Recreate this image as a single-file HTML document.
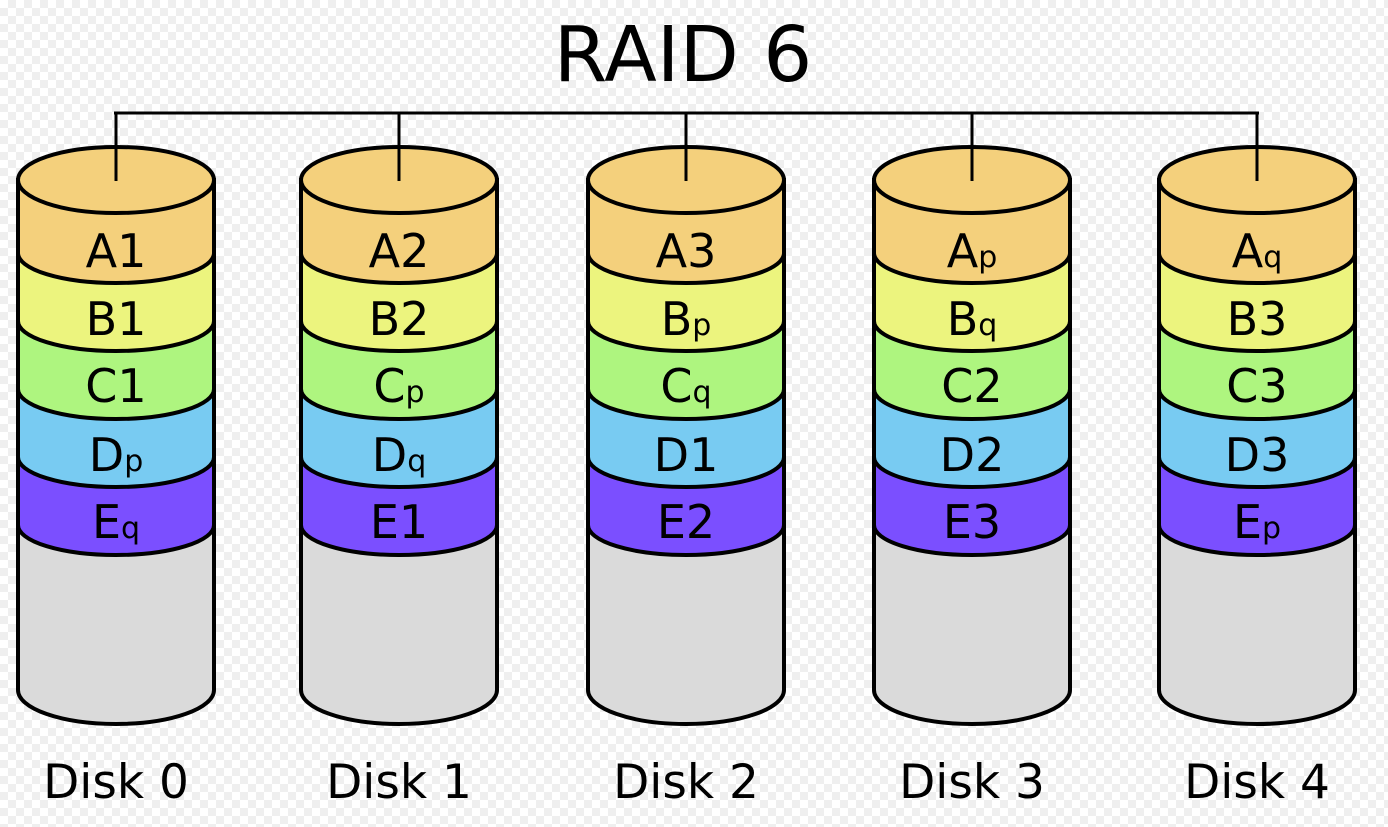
<!DOCTYPE html>
<html><head><meta charset="utf-8"><style>
html,body{margin:0;padding:0}
body{width:1388px;height:827px;overflow:hidden;
background-color:#fff;
background-image:linear-gradient(45deg,#efefef 25%,transparent 25%,transparent 75%,#efefef 75%),linear-gradient(45deg,#efefef 25%,transparent 25%,transparent 75%,#efefef 75%);
background-size:16px 16px;background-position:0 0,8px 8px;}
svg{position:absolute;left:0;top:0}
text{font-family:"DejaVu Sans","Liberation Sans",sans-serif;fill:#000}
</style></head><body>
<svg width="1388" height="827" viewBox="0 0 1388 827" xmlns="http://www.w3.org/2000/svg">
<defs>
<g id="cyl">
  <!-- bottom gray body -->
  <path d="M-98,180 L-98,690 A98,34 0 0 0 98,690 L98,180 Z" fill="#dadada" stroke="#000" stroke-width="4"/>
  <!-- bands, drawn bottom-up -->
  <path d="M-98,180 L-98,525 A98,30 0 0 0 98,525 L98,180 Z" fill="#7b4fff" stroke="#000" stroke-width="4"/>
  <path d="M-98,180 L-98,457 A98,30 0 0 0 98,457 L98,180 Z" fill="#78cbf2" stroke="#000" stroke-width="4"/>
  <path d="M-98,180 L-98,389 A98,30 0 0 0 98,389 L98,180 Z" fill="#aef57f" stroke="#000" stroke-width="4"/>
  <path d="M-98,180 L-98,321 A98,30 0 0 0 98,321 L98,180 Z" fill="#ecf47e" stroke="#000" stroke-width="4"/>
  <path d="M-98,180 L-98,253 A98,30 0 0 0 98,253 L98,180 Z" fill="#f4d07c" stroke="#000" stroke-width="4"/>
  <ellipse cx="0" cy="180" rx="98" ry="33" fill="#f4d07c" stroke="#000" stroke-width="4"/>
  <line x1="0" y1="113" x2="0" y2="181" stroke="#000" stroke-width="3"/>
</g>
</defs>
<text x="683" y="81" font-size="77" text-anchor="middle">RAID 6</text>
<line x1="114" y1="113" x2="1259" y2="113" stroke="#000" stroke-width="3"/>

<use href="#cyl" x="116" y="0"/>
<use href="#cyl" x="399" y="0"/>
<use href="#cyl" x="686" y="0"/>
<use href="#cyl" x="972" y="0"/>
<use href="#cyl" x="1257" y="0"/>

<g font-size="46" text-anchor="middle">
<!-- Disk 0 -->
<text x="116" y="267">A1</text>
<text x="116" y="335">B1</text>
<text x="116" y="402">C1</text>
<text x="116" y="471">D<tspan font-size="30">p</tspan></text>
<text x="116" y="538">E<tspan font-size="30">q</tspan></text>
<!-- Disk 1 -->
<text x="399" y="267">A2</text>
<text x="399" y="335">B2</text>
<text x="399" y="402">C<tspan font-size="30">p</tspan></text>
<text x="399" y="471">D<tspan font-size="30">q</tspan></text>
<text x="399" y="538">E1</text>
<!-- Disk 2 -->
<text x="686" y="267">A3</text>
<text x="686" y="335">B<tspan font-size="30">p</tspan></text>
<text x="686" y="402">C<tspan font-size="30">q</tspan></text>
<text x="686" y="471">D1</text>
<text x="686" y="538">E2</text>
<!-- Disk 3 -->
<text x="972" y="267">A<tspan font-size="30">p</tspan></text>
<text x="972" y="335">B<tspan font-size="30">q</tspan></text>
<text x="972" y="402">C2</text>
<text x="972" y="471">D2</text>
<text x="972" y="538">E3</text>
<!-- Disk 4 -->
<text x="1257" y="267">A<tspan font-size="30">q</tspan></text>
<text x="1257" y="335">B3</text>
<text x="1257" y="402">C3</text>
<text x="1257" y="471">D3</text>
<text x="1257" y="538">E<tspan font-size="30">p</tspan></text>
</g>

<g font-size="47" text-anchor="middle">
<text x="116" y="798">Disk 0</text>
<text x="399" y="798">Disk 1</text>
<text x="686" y="798">Disk 2</text>
<text x="972" y="798">Disk 3</text>
<text x="1257" y="798">Disk 4</text>
</g>
</svg>
</body></html>
